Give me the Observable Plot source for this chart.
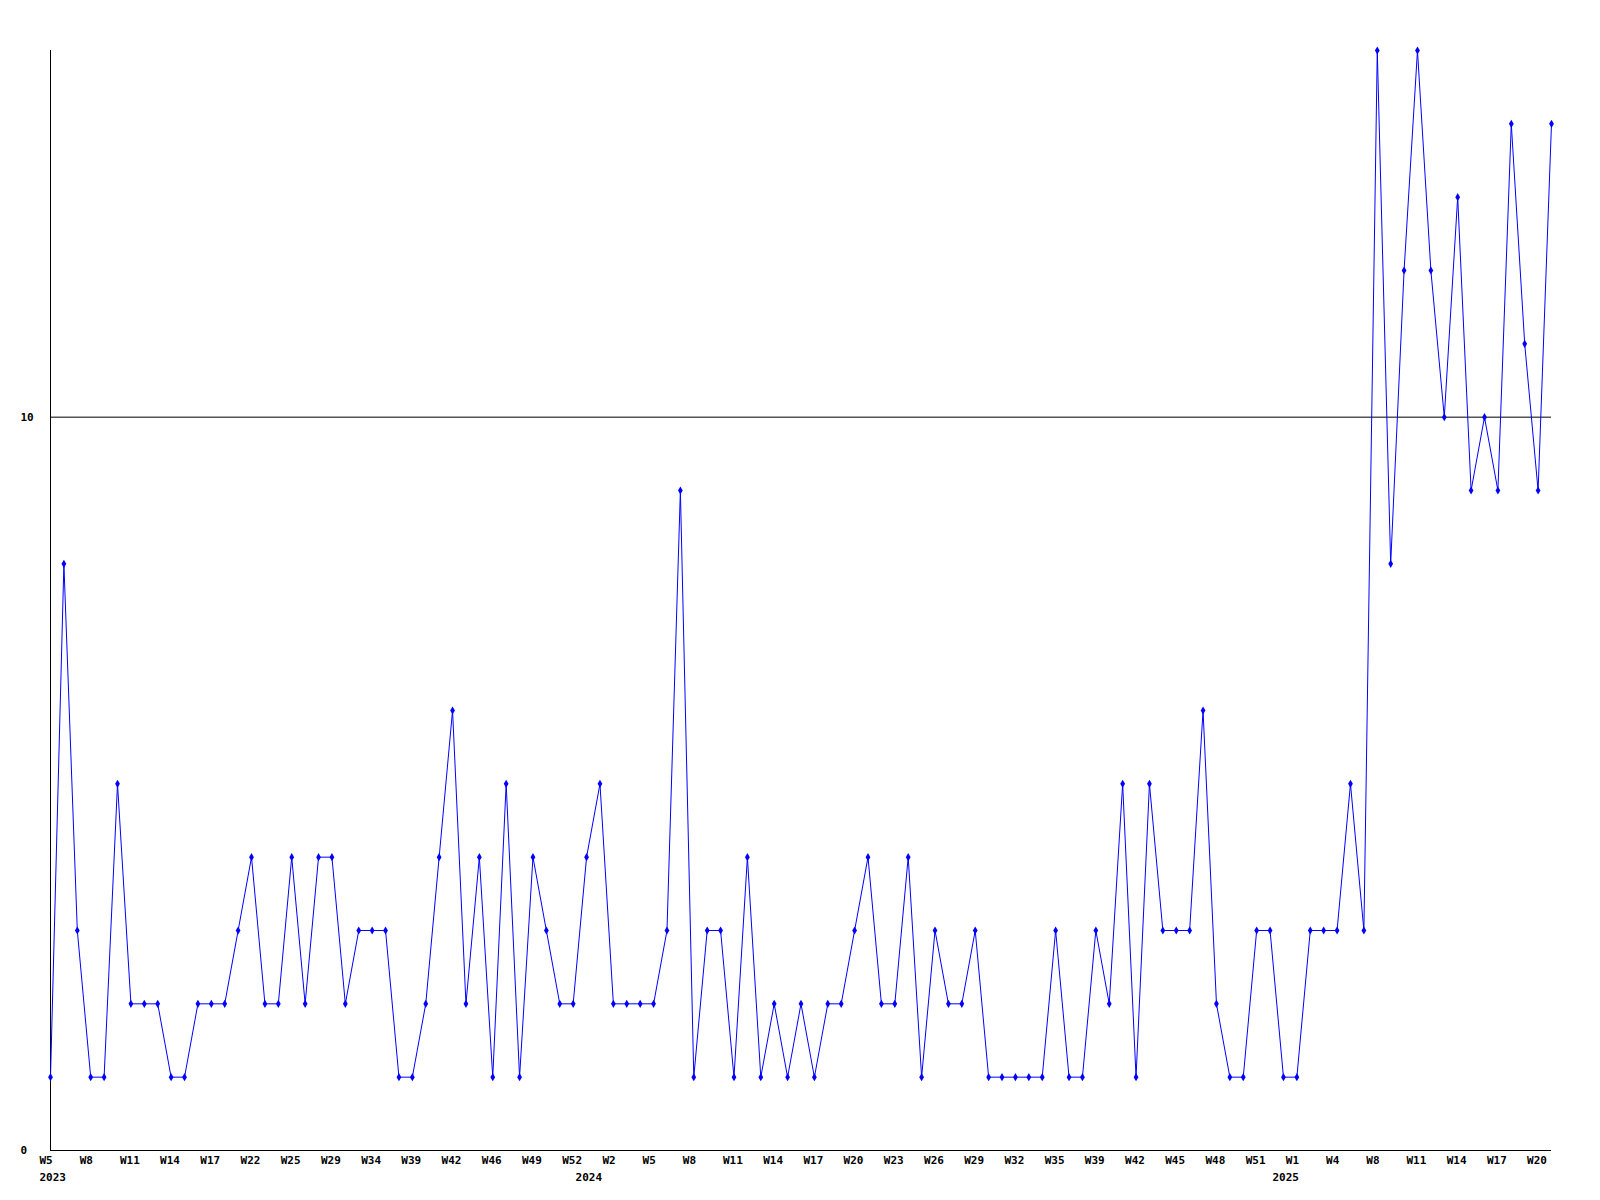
<!DOCTYPE html>
<html><head><meta charset="utf-8">
<script src="https://cdn.jsdelivr.net/npm/d3@7"></script>
<script src="https://cdn.jsdelivr.net/npm/@observablehq/plot@0.6"></script>
<style>body{margin:0;background:#fff}</style>
</head><body><div id="chart"></div>
<script>
const weeks2023 = ["W5","W6","W7","W8","W9","W10","W11","W12","W13","W14","W15","W16","W17","W19","W20","W22","W23","W24","W25","W27","W28","W29","W31","W32","W34","W36","W37","W39","W40","W41","W42","W44","W45","W46","W47","W48","W49","W50","W51","W52"];
const weeks2024 = ["W0","W1","W2","W3","W4","W5","W6","W7","W8","W9","W10","W11","W12","W13","W14","W15","W16","W17","W18","W19","W20","W21","W22","W23","W24","W25","W26","W27","W28","W29","W30","W31","W32","W33","W34","W35","W37","W38","W39","W40","W41","W42","W43","W44","W45","W46","W47","W48","W49","W50","W51","W52"];
const weeks2025 = ["W0","W1","W2","W3","W4","W5","W7","W8","W9","W10","W11","W12","W13","W14","W15","W16","W17","W18","W19","W20","W21"];
const counts = [
  1,8,3,1,1,5,2,2,2,1,1,2,2,2,3,4,2,2,4,2,4,4,2,3,3,3,1,1,2,4,6,2,4,1,5,1,4,3,2,2,
  4,5,2,2,2,2,3,9,1,3,3,1,4,1,2,1,2,1,2,2,3,4,2,2,4,1,3,2,2,3,1,1,1,1,1,3,1,1,3,2,5,1,5,3,3,3,6,2,1,1,3,3,
  1,1,3,3,3,5,3,15,8,12,15,12,10,13,9,10,9,14,11,9,14
];
const yTicks = [0, 10];
const yDomain = [0, 15];

const rows = [];
[[2023, weeks2023], [2024, weeks2024], [2025, weeks2025]].forEach(([yr, ws]) =>
  ws.forEach(w => rows.push({year: yr, week: w, key: yr + "-" + w})));
rows.forEach((r, i) => r.value = counts[i]);
const keys = rows.map(r => r.key);
const tickKeys = keys.filter((k, i) => i % 3 === 0);
const yearStarts = rows.filter((r, i) => i === 0 || rows[i - 1].year !== r.year);

const chart = Plot.plot({
  width: 1600, height: 1200,
  marginTop: 50, marginBottom: 50, marginLeft: 50, marginRight: 49,
  style: {fontFamily: "'DejaVu Sans Mono', monospace", fontSize: "11px", fontWeight: "bold", background: "#fff", color: "#000"},
  x: {type: "point", domain: keys, padding: 0, axis: null},
  y: {domain: yDomain, axis: null},
  marks: [
    Plot.ruleY(yTicks, {stroke: "#000", strokeWidth: 1}),
    Plot.ruleX([keys[0]], {stroke: "#000", strokeWidth: 1}),
    Plot.axisY(yTicks, {tickSize: 0, tickPadding: 30, textAnchor: "start", label: null, tickFormat: d => String(d)}),
    Plot.axisX(tickKeys, {tickSize: 0, tickPadding: 6, textAnchor: "start", dx: -11, label: null, tickFormat: k => k.split("-")[1]}),
    Plot.text(yearStarts, {x: "key", text: d => String(d.year), frameAnchor: "bottom", dy: 30, textAnchor: "start", dx: -11}),
    Plot.line(rows, {x: "key", y: "value", stroke: "#0000ff", strokeWidth: 1}),
    Plot.dot(rows, {x: "key", y: "value", symbol: "diamond", r: 2.5, fill: "#0000ff"})
  ]
});
document.getElementById("chart").appendChild(chart);
</script>
</body></html>
